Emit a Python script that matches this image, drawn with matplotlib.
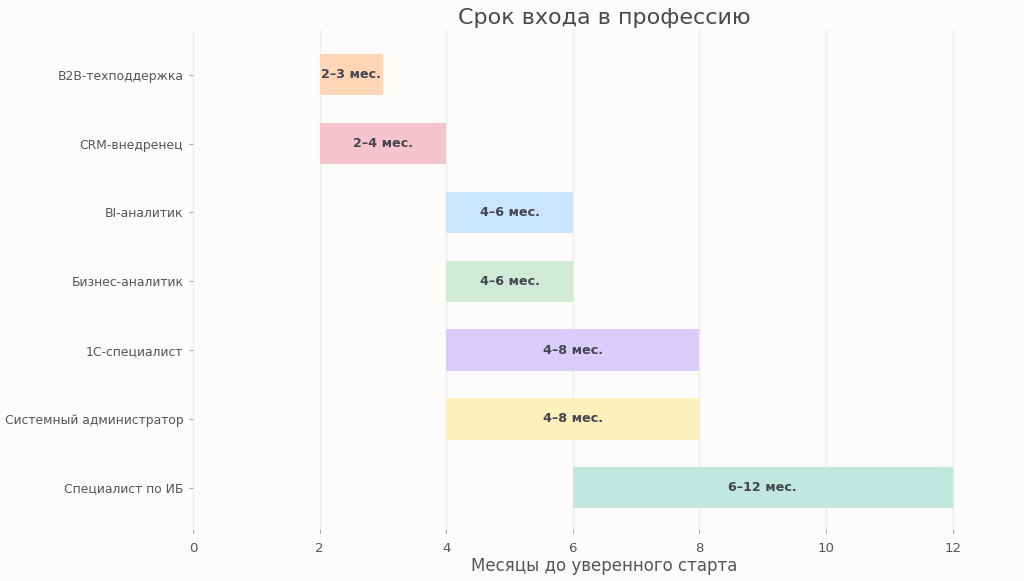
import matplotlib
matplotlib.use("Agg")
import matplotlib.pyplot as plt

# ── Data ───────────────────────────────────────────────────────
professions = ["B2B-техподдержка", "CRM-внедренец", "BI-аналитик",
               "Бизнес-аналитик", "1С-специалист",
               "Системный администратор", "Специалист по ИБ"]
start_months = [2, 2, 4, 4, 4, 4, 6]
end_months   = [3, 4, 6, 6, 8, 8, 12]
bar_labels   = ["2–3 мес.", "2–4 мес.", "4–6 мес.", "4–6 мес.",
                "4–8 мес.", "4–8 мес.", "6–12 мес."]
colors = ["#FFD6B5", "#F6C4CE", "#CBE6FC", "#CFEBD5",
          "#D8CDFB", "#FDF0BB", "#C0E8DF"]

BG   = "#FDFCFB"
TEXT = "#555555"

fig = plt.figure(figsize=(10.24, 5.81), dpi=100, facecolor=BG)
ax = fig.add_axes([193 / 1024, 1 - 529 / 581, 823 / 1024, 499 / 581])
ax.set_facecolor(BG)

widths = [e - s for s, e in zip(start_months, end_months)]
ypos = list(range(len(professions)))
ax.barh(ypos, widths, left=start_months, height=0.6, color=colors, zorder=2)

for y, s, w, lab in zip(ypos, start_months, widths, bar_labels):
    ax.text(s + w / 2, y, lab, ha="center", va="center",
            fontsize=9.2, fontweight="bold", color="#444452", zorder=3)

ax.set_yticks(ypos)
ax.set_yticklabels(professions)
ax.set_xticks([0, 2, 4, 6, 8, 10, 12])
ax.set_xlim(0, 13)
ax.set_ylim(6.6, -0.65)

ax.grid(axis="x", color="#EDEBF1", lw=1.0, zorder=0)
ax.grid(axis="y", visible=False)
for sp in ax.spines.values():
    sp.set_visible(False)
ax.tick_params(axis="both", colors="#AAAAAA", labelcolor=TEXT,
               length=3, width=0.8)
ax.tick_params(axis="y", labelsize=8.9, pad=4)
ax.tick_params(axis="x", labelsize=9.6, pad=6)

ax.set_xlabel("Месяцы до уверенного старта", fontsize=12, color=TEXT, labelpad=2)
ax.set_title("Срок входа в профессию", fontsize=16, color="#4a4a4a", pad=4)

fig.savefig("out.png", dpi=100, facecolor=BG)
